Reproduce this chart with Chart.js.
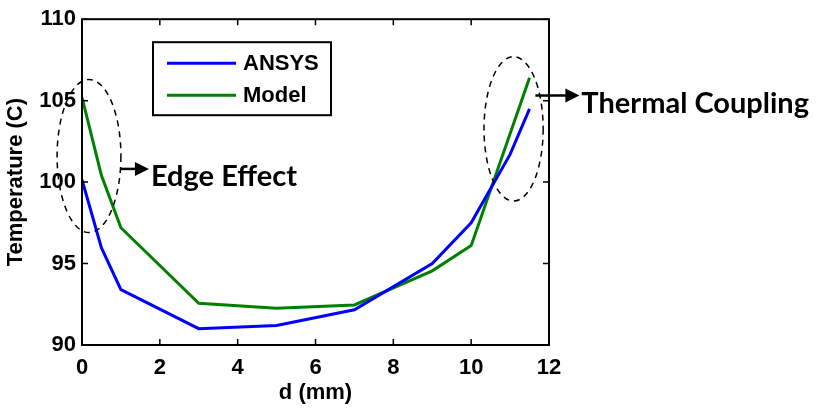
<!DOCTYPE html>
<html>
<head>
<meta charset="utf-8">
<script src="https://cdn.jsdelivr.net/npm/chart.js@4"></script>
<style>
  html, body { margin: 0; padding: 0; background: #fff; }
  canvas { display: block; }
</style>
</head>
<body>
<canvas id="tempChart" width="817" height="408"></canvas>
<script>
// data
const dPoints = [0, 0.5, 1, 3, 5, 7, 9, 10, 11, 11.5];
const ansysTemp = [100.15, 95.96, 93.4, 91.0, 91.2, 92.16, 95.0, 97.5, 101.7, 104.5];
const modelTemp = [105.2, 100.4, 97.2, 92.56, 92.26, 92.46, 94.55, 96.1, null, 106.4];
const seriesNames = ['ANSYS', 'Model'];
const seriesColors = ['#0000ff', '#008000'];
const xTicks = [0, 2, 4, 6, 8, 10, 12];
const yTicks = [90, 95, 100, 105, 110];

const axisFont = { family: '"Liberation Sans", Arial, sans-serif', size: 22, weight: 'bold' };
const noteFont = 'bold 29px Lato, "Open Sans", sans-serif';

const toPoints = ys => dPoints.map((d, i) => ({ x: d, y: ys[i] }));

// frame, inward ticks, legend box and the annotations
const decorations = {
  id: 'decorations',
  afterDraw(chart) {
    const ctx = chart.ctx;
    const { left, right, top, bottom } = chart.chartArea;
    const xs = chart.scales.x, ys = chart.scales.y;
    ctx.save();

    // ticks on all four sides, pointing in
    ctx.strokeStyle = '#000';
    ctx.lineWidth = 1.5;
    ctx.beginPath();
    xTicks.forEach(v => {
      const px = xs.getPixelForValue(v);
      ctx.moveTo(px, bottom); ctx.lineTo(px, bottom - 6);
      ctx.moveTo(px, top); ctx.lineTo(px, top + 6);
    });
    yTicks.forEach(v => {
      const py = ys.getPixelForValue(v);
      ctx.moveTo(left, py); ctx.lineTo(left + 6, py);
      ctx.moveTo(right, py); ctx.lineTo(right - 6, py);
    });
    ctx.stroke();

    ctx.lineWidth = 2;
    ctx.strokeRect(left, top, right - left, bottom - top);

    // legend
    const lx = left + 71, ly = top + 23, lw = 178, lh = 73;
    ctx.fillStyle = '#fff';
    ctx.fillRect(lx, ly, lw, lh);
    ctx.strokeRect(lx, ly, lw, lh);
    ctx.font = 'bold 22px "Liberation Sans", Arial, sans-serif';
    ctx.textBaseline = 'middle';
    chart.data.datasets.forEach((ds, i) => {
      const rowY = ly + 21 + i * 32;
      ctx.strokeStyle = ds.borderColor;
      ctx.lineWidth = 3;
      ctx.beginPath();
      ctx.moveTo(lx + 14, rowY); ctx.lineTo(lx + 83, rowY);
      ctx.stroke();
      ctx.fillStyle = '#000';
      ctx.fillText(ds.label, lx + 90, rowY + 1);
    });

    // dashed ellipses (data coordinates)
    ctx.strokeStyle = '#000';
    ctx.lineWidth = 1.5;
    ctx.setLineDash([6, 5]);
    [[0.18, 101.6, 0.82, 4.7], [11.09, 103.27, 0.76, 4.43]].forEach(([cx, cy, rx, ry]) => {
      const px = xs.getPixelForValue(cx), py = ys.getPixelForValue(cy);
      const prx = xs.getPixelForValue(cx + rx) - px;
      const pry = py - ys.getPixelForValue(cy + ry);
      ctx.beginPath();
      ctx.ellipse(px, py, prx, pry, 0, 0, Math.PI * 2);
      ctx.stroke();
    });
    ctx.setLineDash([]);

    // arrows with labels
    [[0.98, 1.72, 100.81, 'Edge Effect'], [11.65, 12.78, 105.32, 'Thermal Coupling']].forEach(([x0, x1, y, text]) => {
      const p0 = xs.getPixelForValue(x0), p1 = xs.getPixelForValue(x1), py = ys.getPixelForValue(y);
      ctx.strokeStyle = '#000';
      ctx.lineWidth = 2.5;
      ctx.beginPath();
      ctx.moveTo(p0, py); ctx.lineTo(p1 - 10, py);
      ctx.stroke();
      ctx.fillStyle = '#000';
      ctx.beginPath();
      ctx.moveTo(p1, py); ctx.lineTo(p1 - 14, py - 7); ctx.lineTo(p1 - 14, py + 7);
      ctx.closePath();
      ctx.fill();
      ctx.font = noteFont;
      ctx.textBaseline = 'middle';
      ctx.fillText(text, p1 + 2, py + 8);
    });

    ctx.restore();
  }
};

new Chart(document.getElementById('tempChart'), {
  type: 'line',
  data: {
    datasets: [
      { label: seriesNames[0], data: toPoints(ansysTemp), borderColor: seriesColors[0] },
      { label: seriesNames[1], data: toPoints(modelTemp), borderColor: seriesColors[1] }
    ]
  },
  options: {
    responsive: false,
    animation: false,
    devicePixelRatio: 1,
    spanGaps: true,
    layout: { padding: { left: 0, right: 268, top: 12, bottom: 0 } },
    elements: {
      line: { borderWidth: 3, tension: 0 },
      point: { radius: 0 }
    },
    plugins: { legend: { display: false }, tooltip: { enabled: false } },
    scales: {
      x: {
        type: 'linear',
        min: 0, max: 12,
        grid: { display: false, tickLength: 0 },
        border: { display: false },
        afterFit: s => { s.height = 63; },
        ticks: { stepSize: 2, color: '#000', font: axisFont, padding: 10 },
        title: { display: true, text: 'd (mm)', color: '#000',
                 font: { family: axisFont.family, size: 22, weight: 'bold' }, padding: { top: 0, bottom: 2 } }
      },
      y: {
        min: 90, max: 110,
        grid: { display: false, tickLength: 0 },
        border: { display: false },
        afterFit: s => { s.width = 82; },
        ticks: { stepSize: 5, color: '#000', font: axisFont, padding: 6 },
        title: { display: true, text: 'Temperature (C)', color: '#000',
                 font: { family: axisFont.family, size: 22, weight: 'bold' }, padding: { top: 3, bottom: 0 } }
      }
    }
  },
  plugins: [decorations]
});
</script>
</body>
</html>
